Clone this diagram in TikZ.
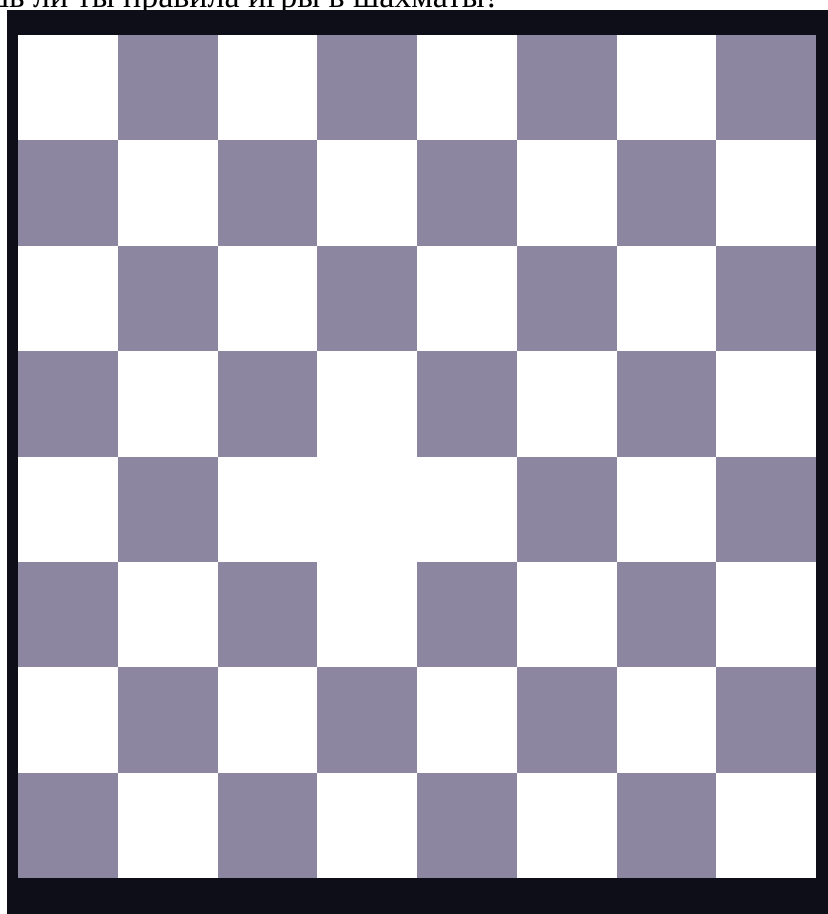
\documentclass[tikz,border=0pt]{standalone}
\usepackage{fontspec}
\setmainfont{Liberation Serif}
\definecolor{sq}{RGB}{141,134,160}
\definecolor{frame}{RGB}{14,14,24}
\begin{document}
\begin{tikzpicture}[x=1pt,y=-1pt]
\useasboundingbox (0,0) rectangle (828,914);
\clip (0,0) rectangle (828,914);
\fill[white] (0,0) rectangle (828,914);
% caption (cut off at top)
\node[anchor=base east, inner sep=0pt, font=\fontsize{34}{40}\selectfont] (cap) at (500,7) {Знаешь ли ты правила игры в шахматы?};
% frame
\fill[frame] (7,10) rectangle (828,914);
\fill[white] (18,35) rectangle (816,878);
% squares
\foreach \r in {0,...,7}{
  \foreach \c in {0,...,7}{
    \pgfmathtruncatemacro{\pty}{mod(\r+\c,2)+10*(\r==4)*(\c==3)}
    \ifnum\pty=1
      \fill[sq] ({18+\c*99.75},{35+\r*105.375}) rectangle ++(99.75,105.375);
    \fi
  }
}
\end{tikzpicture}
\end{document}
